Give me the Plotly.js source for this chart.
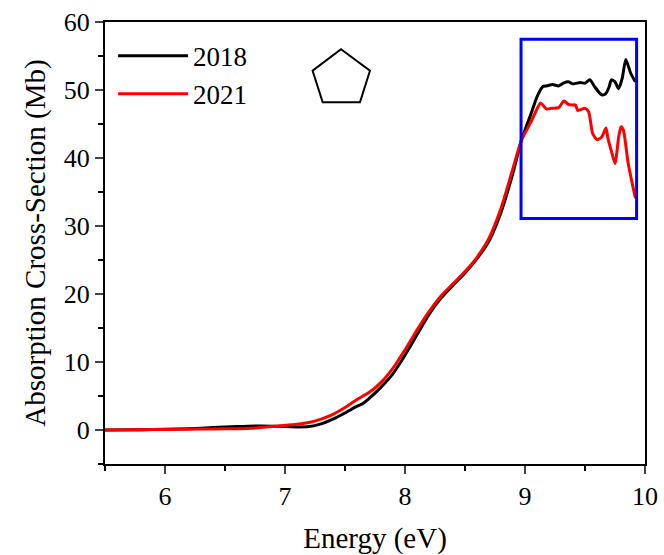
<!DOCTYPE html>
<html>
<head>
<meta charset="utf-8">
<script src="https://cdn.plot.ly/plotly-3.0.1.min.js"></script>
<style>html,body{margin:0;padding:0;background:#fff;}#chart{width:664px;height:555px;}</style>
</head>
<body>
<div id="chart"></div>
<script>
const energy2018 = [5.5,5.8,6.0,6.2,6.4,6.6,6.8,6.95,7.1,7.2,7.3,7.4,7.5,7.6,7.65,7.7,7.8,7.9,8.0,8.1,8.2,8.3,8.4,8.5,8.6,8.7,8.8,8.9,8.97,9.05,9.1,9.15,9.18,9.23,9.28,9.32,9.36,9.4,9.46,9.5,9.54,9.58,9.61,9.64,9.67,9.70,9.72,9.75,9.78,9.81,9.84,9.88,9.92];
const cs2018 = [0.0,0.05,0.1,0.2,0.35,0.5,0.6,0.55,0.45,0.5,0.9,1.6,2.5,3.5,3.9,4.6,6.3,8.3,11.0,14.0,17.0,19.4,21.3,23.1,25.2,27.8,32.0,37.8,42.6,46.5,49.0,50.5,50.6,50.8,50.6,51.0,51.2,50.9,51.1,51.0,51.5,50.5,49.8,49.3,49.4,50.4,51.5,51.2,50.2,51.7,54.5,52.5,51.2];
const energy2021 = [5.5,5.8,6.0,6.2,6.4,6.6,6.8,6.95,7.1,7.2,7.3,7.4,7.5,7.6,7.7,7.8,7.9,8.0,8.1,8.2,8.3,8.4,8.5,8.6,8.7,8.8,8.9,8.97,9.05,9.1,9.13,9.18,9.22,9.28,9.325,9.36,9.39,9.42,9.44,9.5,9.53,9.564,9.6,9.64,9.675,9.69,9.72,9.75,9.78,9.80,9.82,9.86,9.92];
const cs2021 = [0.0,0.05,0.08,0.12,0.15,0.2,0.35,0.6,0.85,1.1,1.6,2.3,3.3,4.5,5.5,7.0,9.1,11.8,14.7,17.4,19.7,21.5,23.3,25.4,28.2,32.6,38.5,42.6,45.3,47.2,48.1,47.2,47.3,47.4,48.4,47.9,47.8,47.8,47.0,47.3,46.8,43.6,42.7,43.1,44.4,43.0,41.0,39.2,43.0,44.6,44.1,39.2,34.1];
const seriesNames = ["2018","2021"];
const xTickVals = [6,7,8,9,10];
const yTickVals = [0,10,20,30,40,50,60];

const font = "Liberation Serif, Times New Roman, serif";
const traces = [
  {x: energy2018, y: cs2018, name: seriesNames[0], mode: "lines", type: "scatter",
   line: {color: "#000000", width: 3, shape: "spline", smoothing: 0.6}},
  {x: energy2021, y: cs2021, name: seriesNames[1], mode: "lines", type: "scatter",
   line: {color: "#ff0000", width: 3, shape: "spline", smoothing: 0.6}}
];
const layout = {
  width: 664, height: 555,
  margin: {l: 105, r: 19, t: 22, b: 91},
  paper_bgcolor: "#fff", plot_bgcolor: "#fff",
  font: {family: font, color: "#000", size: 25},
  showlegend: true,
  legend: {x: 0.015, y: 0.978, xanchor: "left", yanchor: "top", bgcolor: "rgba(0,0,0,0)",
           font: {family: font, size: 27, color: "#000"}, itemwidth: 70, tracegroupgap: 0},
  xaxis: {range: [5.5, 10], tickvals: xTickVals, ticks: "outside", ticklen: 8, tickwidth: 2,
          showline: true, linewidth: 2, linecolor: "#000", mirror: true, showgrid: false, zeroline: false,
          minor: {dtick: 0.5, ticks: "outside", ticklen: 5, tickwidth: 2, tickcolor: "#000", showgrid: false},
          tickfont: {family: font, size: 26}, title: {text: "Energy (eV)", font: {family: font, size: 29}, standoff: 17}},
  yaxis: {range: [-5, 60], tickvals: yTickVals, ticks: "outside", ticklen: 8, tickwidth: 2,
          showline: true, linewidth: 2, linecolor: "#000", mirror: true, showgrid: false, zeroline: false,
          minor: {dtick: 5, ticks: "outside", ticklen: 5, tickwidth: 2, tickcolor: "#000", showgrid: false},
          tickfont: {family: font, size: 26}, title: {text: "Absorption Cross-Section (Mb)", font: {family: font, size: 29}, standoff: 10}},
  shapes: [
    {type: "rect", xref: "x", yref: "y", x0: 8.967, x1: 9.93, y0: 31.1, y1: 57.45,
     line: {color: "#0000ff", width: 3}},
    {type: "path", xref: "x", yref: "y",
     path: "M7.467,56.0 L7.708,52.84 L7.625,48.19 L7.314,48.19 L7.23,52.84 Z",
     line: {color: "#000", width: 2}}
  ]
};
Plotly.newPlot("chart", traces, layout, {displayModeBar: false, staticPlot: true});
</script>
</body>
</html>
